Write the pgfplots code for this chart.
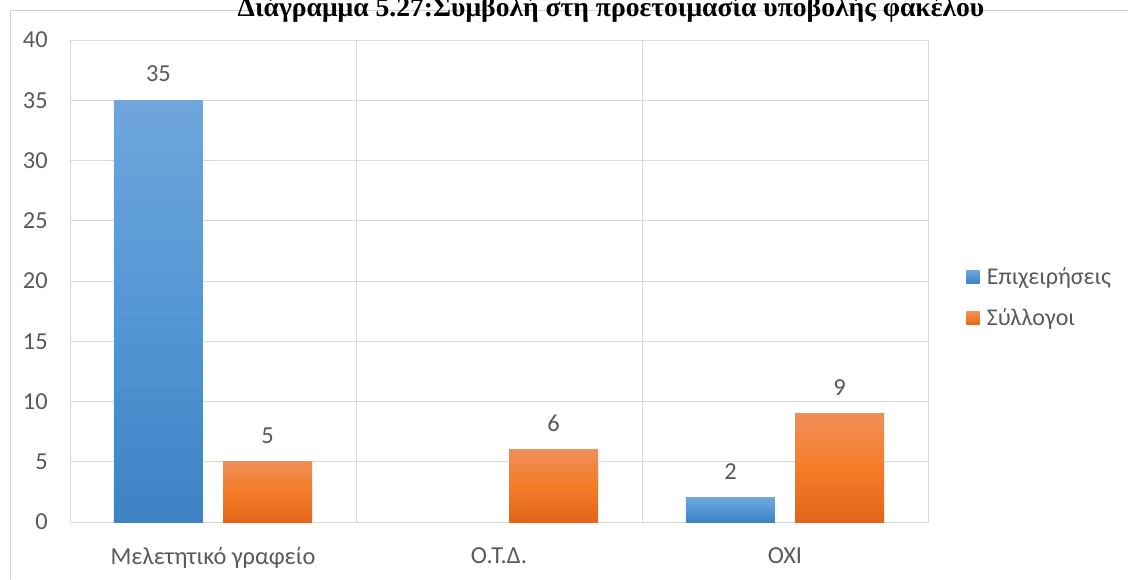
\documentclass[border=0pt]{standalone}
\usepackage{fontspec}
\setmainfont{Carlito}
\newfontfamily\titlefont{Liberation Serif}
\usepackage{pgfplots}
\pgfplotsset{compat=1.18}
\definecolor{txt}{HTML}{595959}
\definecolor{gridc}{HTML}{D9D9D9}
\definecolor{frame}{HTML}{D0D0D0}
\definecolor{blueT}{HTML}{6FA6DB}
\definecolor{blueM}{HTML}{5497D6}
\definecolor{blueB}{HTML}{3E82C4}
\definecolor{orT}{HTML}{F08F58}
\definecolor{orM}{HTML}{F47C28}
\definecolor{orB}{HTML}{E2661A}
\begin{document}
\begin{tikzpicture}
\useasboundingbox (0,0) rectangle (846pt,-434.25pt);
\draw[frame, line width=0.75pt] (7.5pt,-434.25pt) -- (7.5pt,-7.5pt) -- (846pt,-7.5pt);
\node[font=\titlefont\bfseries\fontsize{20.7}{24}\selectfont, anchor=base, inner sep=0pt] at (458.25pt,-12pt) {Διάγραμμα 5.27:Συμβολή στη προετοιμασία υποβολής φακέλου};
\begin{axis}[
  at={(52.5pt,-391.5pt)}, anchor=south west,
  scale only axis, width=643.5pt, height=361.5pt,
  ybar, bar width=66.75pt,
  xmin=-0.5, xmax=2.5, ymin=0, ymax=40,
  xtick={0,1,2},
  xticklabels={Μελετητικό γραφείο, Ο.Τ.Δ., ΟΧΙ},
  minor xtick={0.5,1.5},
  ytick={0,5,...,40},
  xminorgrids, ymajorgrids,
  grid style={gridc, line width=0.75pt},
  minor grid style={gridc, line width=0.75pt},
  axis line style={gridc, line width=0.75pt},
  major tick style={draw=none}, minor tick style={draw=none},
  tick label style={font=\fontsize{18.3}{22}\selectfont, text=txt},
  /pgf/number format/assume math mode=true,
  yticklabel style={anchor=east, inner sep=0pt, xshift=-16.5pt},
  xticklabel style={anchor=north, inner sep=0pt, yshift=-14.5pt},
  nodes near coords,
  every node near coord/.append style={font=\fontsize{18.3}{22}\selectfont, text=txt, anchor=south, inner sep=0pt, yshift=13.5pt},
  legend style={at={(1.0443,0.4658)}, anchor=west, draw=none, fill=none,
    font=\fontsize{18}{22}\selectfont, text=txt, row sep=13pt, inner sep=0pt,
    nodes={inner sep=2pt},
    /tikz/every odd column/.append style={column sep=3.5pt}},
  legend cell align=left,
  legend image code/.code={\path[#1] (0pt,-5pt) rectangle (10pt,5pt);},
]
\addplot[draw=none, top color=blueT, bottom color=blueB, middle color=blueM, bar shift=-40.9pt]
  coordinates {(0,35)};
\addplot[draw=none, top color=orT, bottom color=orB, middle color=orM, bar shift=40.9pt]
  coordinates {(0,5)};
\addplot[forget plot, draw=none, top color=blueT, bottom color=blueB, middle color=blueM, bar shift=-40.9pt]
  coordinates {(2,2)};
\addplot[forget plot, draw=none, top color=orT, bottom color=orB, middle color=orM, bar shift=40.9pt]
  coordinates {(1,6)};
\addplot[forget plot, draw=none, top color=orT, bottom color=orB, middle color=orM, bar shift=40.9pt]
  coordinates {(2,9)};
\legend{Επιχειρήσεις, Σύλλογοι}
\end{axis}
\end{tikzpicture}
\end{document}
